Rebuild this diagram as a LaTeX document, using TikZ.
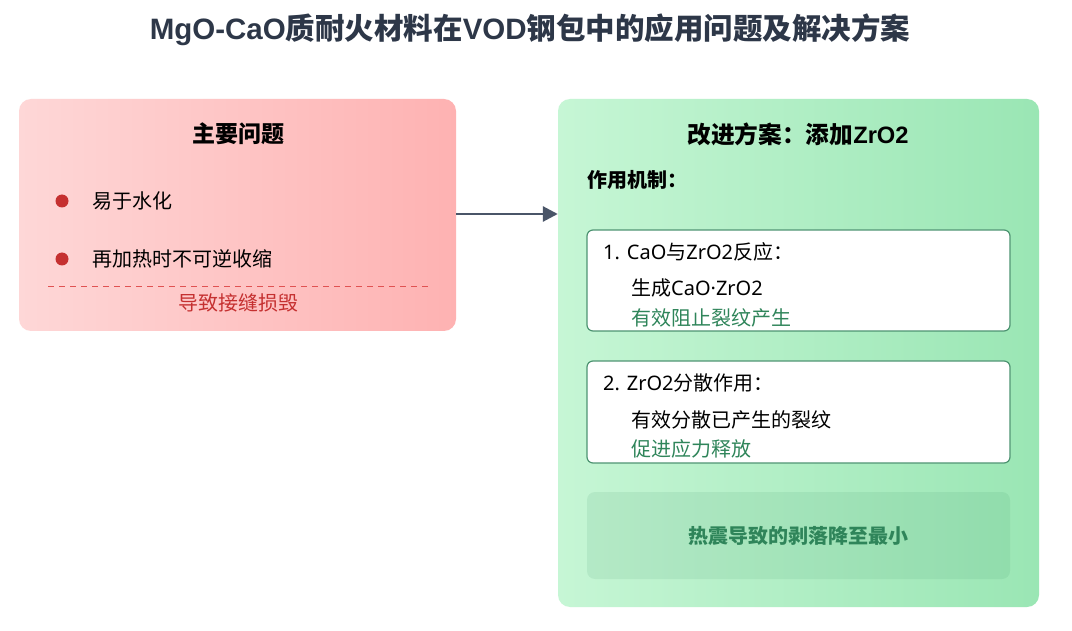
\documentclass[tikz,border=0pt]{standalone}
\usepackage{fontspec}
\setmainfont{Noto Sans CJK SC}
\newfontfamily\latf{Noto Sans}
\newfontfamily\latb{Liberation Sans}
\newcommand{\Lt}[1]{{\latf #1}}
\newcommand{\Lb}[1]{{\latb\bfseries #1}}
\usetikzlibrary{arrows.meta}
\definecolor{titlec}{HTML}{2D3748}
\definecolor{redA}{HTML}{FED7D7}
\definecolor{redB}{HTML}{FEB2B2}
\definecolor{redDot}{HTML}{C53030}
\definecolor{redLine}{HTML}{E05252}
\definecolor{greenA}{HTML}{C6F6D5}
\definecolor{greenB}{HTML}{9AE6B4}
\definecolor{greenT}{HTML}{2F855A}
\definecolor{greenBorder}{HTML}{4E9472}
\definecolor{arrowc}{HTML}{4A5568}
\tikzset{
  panel/.style={draw=none, rounded corners=12pt, inner sep=0pt},
  subbox/.style={draw=greenBorder, line width=1.2pt, fill=white, rounded corners=6pt, minimum width=423pt, inner sep=0pt},
  txt/.style={anchor=west, inner sep=0pt, font=\fontsize{20}{24}\selectfont},
  ttl/.style={inner sep=0pt, font=\fontsize{23}{27}\selectfont\bfseries},
  dot/.style={circle, fill=redDot, minimum size=13pt, inner sep=0pt},
  arr/.style={draw=arrowc, line width=2.8pt, -{Triangle[length=15pt,width=15pt]}}
}
\begin{document}
\begin{tikzpicture}[x=1pt,y=-1pt]
\useasboundingbox (0,0) rectangle (1072,631);
\fill[white] (0,0) rectangle (1072,631);

\node[inner sep=0pt, text=titlec, font=\fontsize{29.5}{34}\selectfont\bfseries] (title) at (530,30) {\Lb{MgO-CaO}质耐火材料在\Lb{VOD}钢包中的应用问题及解决方案};

% left panel
\node[panel, left color=redA, right color=redB, minimum width=437pt, minimum height=232pt] (prob) at (237.5,215) {};
\node[ttl] (probt) at (238,134) {主要问题};
\node[dot] (d1) at (62,201) {};
\node[txt] (p1) at (92,201) {易于水化};
\node[dot] (d2) at (62,259) {};
\node[txt] (p2) at (92,259) {再加热时不可逆收缩};
\coordinate (dl) at (48,287);
\coordinate (dr) at (428,287);
\draw[redLine, line width=1pt, dash pattern=on 6pt off 5pt] (dl) -- (dr);
\node[inner sep=0pt, text=redDot, font=\fontsize{20}{24}\selectfont] (pf) at (238,303) {导致接缝损毁};

% right panel
\node[panel, left color=greenA, right color=greenB, minimum width=481pt, minimum height=508pt] (sol) at (798.5,353) {};
\node[ttl, font=\fontsize{23.7}{28}\selectfont\bfseries] (solt) at (798,134) {改进方案：添加\Lb{ZrO2}};
\node[txt, font=\fontsize{20}{24}\selectfont\bfseries] (mech) at (587,180) {作用机制：};

\node[subbox, minimum height=101pt] (b1) at (798.5,280.5) {};
\node[txt] (b1a) at (603,252) {\Lt{1. CaO}与\Lt{ZrO2}反应：};
\node[txt] (b1b) at (631,288) {生成\Lt{CaO·ZrO2}};
\node[txt, text=greenT] (b1c) at (631,318) {有效阻止裂纹产生};

\node[subbox, minimum height=102pt] (b2) at (798.5,412) {};
\node[txt] (b2a) at (603,383) {\Lt{2. ZrO2}分散作用：};
\node[txt] (b2b) at (631,420) {有效分散已产生的裂纹};
\node[txt, text=greenT] (b2c) at (631,449) {促进应力释放};

\node[draw=none, fill=greenT, fill opacity=0.1, text opacity=1, rounded corners=8pt, minimum width=423pt, minimum height=87pt, inner sep=0pt] (b3) at (798.5,535.5) {};
\node[inner sep=0pt, text=greenT, font=\fontsize{20}{24}\selectfont\bfseries] (b3t) at (798.5,536) {热震导致的剥落降至最小};

% arrow
\draw[arr] (456,214) coordinate (as) -- (as -| sol.west);
\end{tikzpicture}
\end{document}
